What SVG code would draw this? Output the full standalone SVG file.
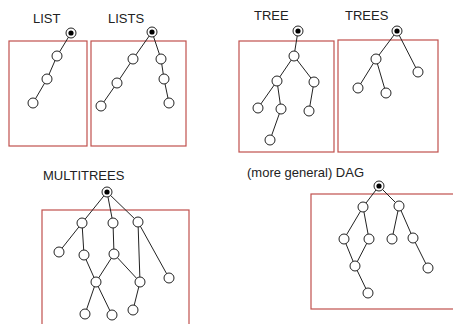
<svg xmlns="http://www.w3.org/2000/svg" width="453" height="324" viewBox="0 0 453 324">
<style>
.frame{fill:none;stroke:#c0504d;stroke-width:1.2}
.n{fill:#fff;stroke:#222;stroke-width:1}
.e{stroke:#222;stroke-width:1;fill:none}
.root{fill:#fff;stroke:#222;stroke-width:1}
.dot{fill:#000}
.lbl{font-family:"Liberation Sans",Arial,sans-serif;font-size:13px;fill:#222}
</style>
<rect width="453" height="324" fill="#fff"/>
<g id="frames">
<rect class="frame" x="9" y="41" width="78" height="105"/>
<rect class="frame" x="91" y="41" width="95" height="105"/>
<rect class="frame" x="239" y="41" width="95" height="111"/>
<rect class="frame" x="338" y="40" width="100" height="112"/>
<rect class="frame" x="42" y="210" width="147" height="130"/>
<rect class="frame" x="311" y="194" width="160" height="115"/>
</g>
<g id="labels">
<text class="lbl" x="33" y="23">LIST</text>
<text class="lbl" x="108" y="23">LISTS</text>
<text class="lbl" x="254" y="20">TREE</text>
<text class="lbl" x="345" y="20">TREES</text>
<text class="lbl" x="43" y="180">MULTITREES</text>
<text class="lbl" x="247" y="177">(more general) DAG</text>
</g>
<g id="connectors">
<path class="e" d="M71 33L57 56L47 79L33 103"/>
<path class="e" d="M152 32L133 59L117 83L101 106M152 32L161 59L164 79L169 103"/>
<path class="e" d="M298 31L294 56L277 81L258 108M277 81L281 109L270 140M294 56L314 82L309 111"/>
<path class="e" d="M397 31L376 59L358 88M376 59L386 93M397 31L418 72"/>
<path class="e" d="M107 192L82 223L59 252M82 223L84 255L96 282M107 192L113 223L114 254L96 282L85 314M96 282L112 315M114 254L140 282L133 310M107 192L138 222L140 282M138 222L169 278"/>
<path class="e" d="M379 186L363 207L344 239L355 266L368 293M363 207L369 239L355 266M379 186L399 206L392 239M399 206L413 238L428 268"/>
</g>
<g id="list">
<circle class="root" cx="71" cy="33" r="5"/><circle class="dot" cx="71" cy="33" r="2.6"/>
<circle class="n" cx="57" cy="56" r="5"/><circle class="n" cx="47" cy="79" r="5"/><circle class="n" cx="33" cy="103" r="5"/>
</g>
<g id="lists">
<circle class="root" cx="152" cy="32" r="5"/><circle class="dot" cx="152" cy="32" r="2.6"/>
<circle class="n" cx="133" cy="59" r="5"/><circle class="n" cx="117" cy="83" r="5"/><circle class="n" cx="101" cy="106" r="5"/>
<circle class="n" cx="161" cy="59" r="5"/><circle class="n" cx="164" cy="79" r="5"/><circle class="n" cx="169" cy="103" r="5"/>
</g>
<g id="tree">
<circle class="root" cx="298" cy="31" r="5"/><circle class="dot" cx="298" cy="31" r="2.6"/>
<circle class="n" cx="294" cy="56" r="5"/><circle class="n" cx="277" cy="81" r="5"/><circle class="n" cx="314" cy="82" r="5"/>
<circle class="n" cx="258" cy="108" r="5"/><circle class="n" cx="281" cy="109" r="5"/><circle class="n" cx="309" cy="111" r="5"/>
<circle class="n" cx="270" cy="140" r="5"/>
</g>
<g id="trees">
<circle class="root" cx="397" cy="31" r="5"/><circle class="dot" cx="397" cy="31" r="2.6"/>
<circle class="n" cx="376" cy="59" r="5"/><circle class="n" cx="418" cy="72" r="5"/>
<circle class="n" cx="358" cy="88" r="5"/><circle class="n" cx="386" cy="93" r="5"/>
</g>
<g id="multitrees">
<circle class="root" cx="107" cy="192" r="5"/><circle class="dot" cx="107" cy="192" r="2.6"/>
<circle class="n" cx="82" cy="223" r="5"/><circle class="n" cx="113" cy="223" r="5"/><circle class="n" cx="138" cy="222" r="5"/>
<circle class="n" cx="59" cy="252" r="5"/><circle class="n" cx="84" cy="255" r="5"/><circle class="n" cx="114" cy="254" r="5"/>
<circle class="n" cx="96" cy="282" r="5"/><circle class="n" cx="140" cy="282" r="5"/><circle class="n" cx="169" cy="278" r="5"/>
<circle class="n" cx="85" cy="314" r="5"/><circle class="n" cx="112" cy="315" r="5"/><circle class="n" cx="133" cy="310" r="5"/>
</g>
<g id="dag">
<circle class="root" cx="379" cy="186" r="5"/><circle class="dot" cx="379" cy="186" r="2.6"/>
<circle class="n" cx="363" cy="207" r="5"/><circle class="n" cx="399" cy="206" r="5"/>
<circle class="n" cx="344" cy="239" r="5"/><circle class="n" cx="369" cy="239" r="5"/><circle class="n" cx="392" cy="239" r="5"/><circle class="n" cx="413" cy="238" r="5"/>
<circle class="n" cx="355" cy="266" r="5"/><circle class="n" cx="428" cy="268" r="5"/>
<circle class="n" cx="368" cy="293" r="5"/>
</g>
</svg>
